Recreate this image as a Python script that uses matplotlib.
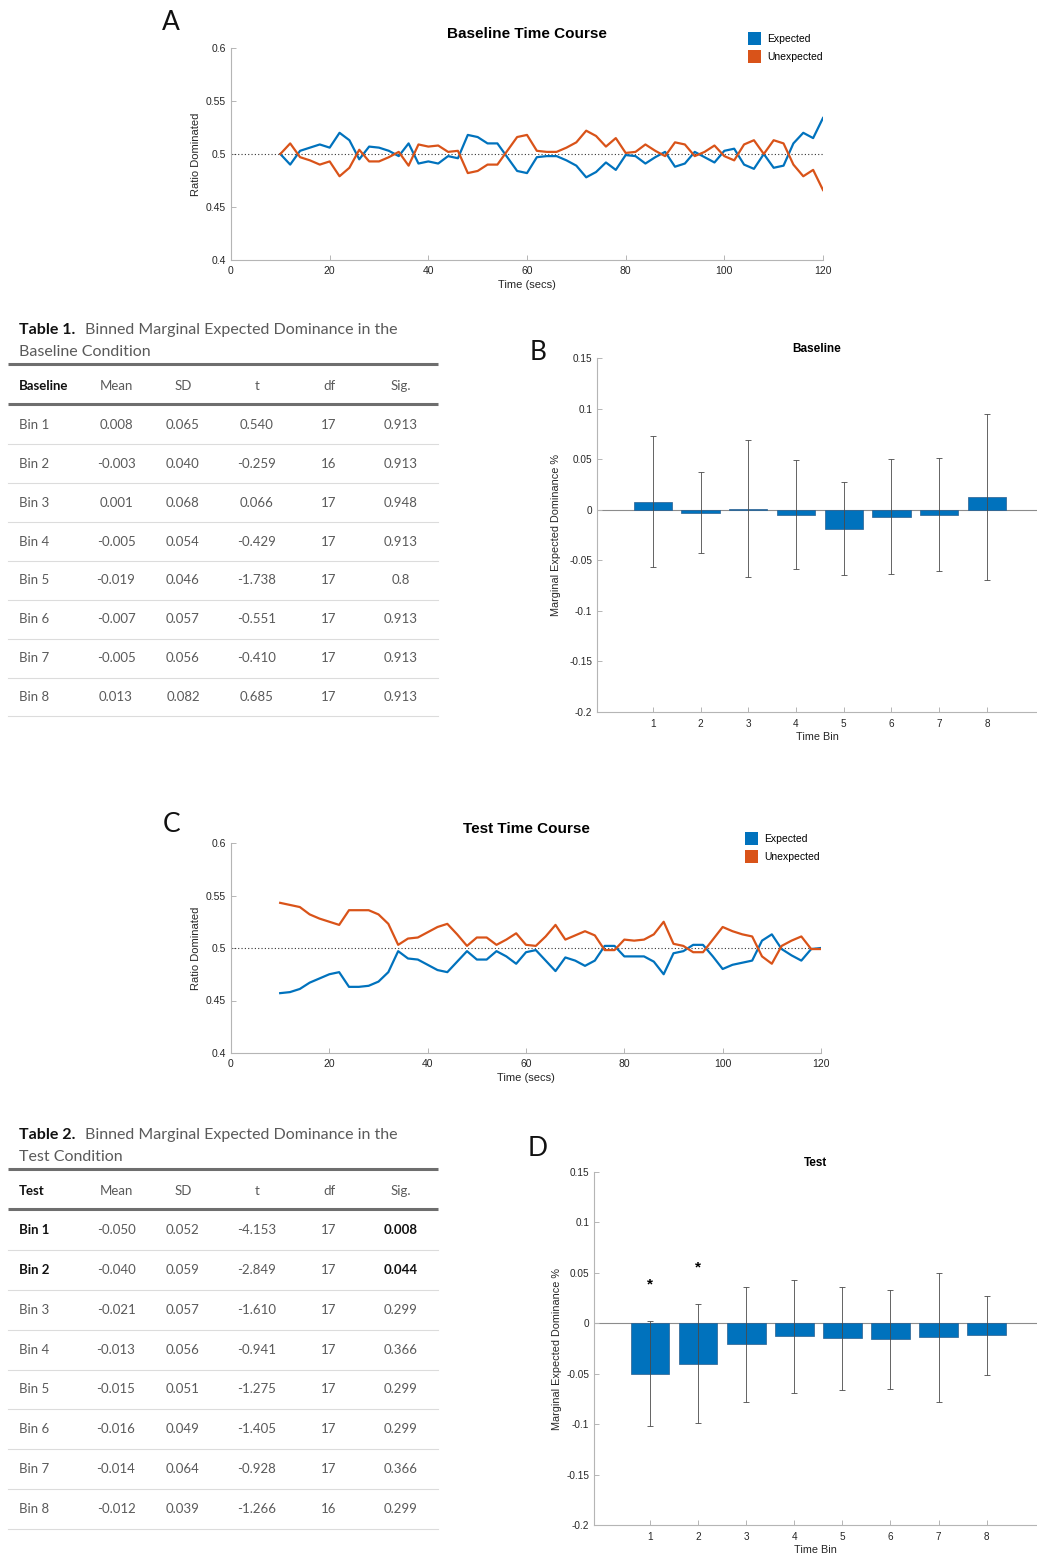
import matplotlib
matplotlib.use("Agg")
import matplotlib.pyplot as plt
from matplotlib.patches import Patch
import numpy as np

# ---- time courses (ratio dominated, sampled every 2 s) ----
times = list(range(10, 121, 2))

base_expected = [0.500, 0.490, 0.503, 0.506, 0.509, 0.506, 0.520, 0.513, 0.495, 0.507,
                 0.506, 0.503, 0.498, 0.510, 0.491, 0.493, 0.491, 0.498, 0.496, 0.518,
                 0.516, 0.510, 0.510, 0.497, 0.484, 0.482, 0.497, 0.498, 0.498, 0.494,
                 0.489, 0.478, 0.483, 0.492, 0.485, 0.499, 0.498, 0.491, 0.497, 0.502,
                 0.488, 0.491, 0.502, 0.497, 0.492, 0.503, 0.505, 0.490, 0.486, 0.500,
                 0.487, 0.489, 0.510, 0.520, 0.515, 0.534]
base_unexpected = [0.500, 0.510, 0.497, 0.494, 0.490, 0.493, 0.479, 0.487, 0.504, 0.493,
                   0.493, 0.497, 0.502, 0.489, 0.509, 0.507, 0.508, 0.502, 0.503, 0.482,
                   0.484, 0.490, 0.490, 0.503, 0.516, 0.518, 0.503, 0.502, 0.502, 0.506,
                   0.511, 0.522, 0.517, 0.507, 0.515, 0.501, 0.502, 0.509, 0.503, 0.498,
                   0.511, 0.509, 0.498, 0.502, 0.508, 0.498, 0.494, 0.509, 0.513, 0.500,
                   0.513, 0.510, 0.490, 0.479, 0.485, 0.466]

test_expected = [0.457, 0.458, 0.461, 0.467, 0.471, 0.475, 0.477, 0.463, 0.463, 0.464,
                 0.468, 0.477, 0.497, 0.490, 0.489, 0.484, 0.479, 0.477, 0.487, 0.497,
                 0.489, 0.489, 0.497, 0.492, 0.485, 0.496, 0.498, 0.488, 0.478, 0.491,
                 0.488, 0.483, 0.488, 0.502, 0.502, 0.492, 0.492, 0.492, 0.487, 0.475,
                 0.495, 0.497, 0.503, 0.503, 0.492, 0.480, 0.484, 0.486, 0.488, 0.507,
                 0.513, 0.499, 0.493, 0.488, 0.499, 0.500]
test_unexpected = [0.543, 0.541, 0.539, 0.532, 0.528, 0.525, 0.522, 0.536, 0.536, 0.536,
                   0.532, 0.523, 0.503, 0.509, 0.510, 0.515, 0.520, 0.523, 0.513, 0.502,
                   0.510, 0.510, 0.503, 0.508, 0.514, 0.503, 0.502, 0.511, 0.522, 0.508,
                   0.512, 0.516, 0.512, 0.498, 0.498, 0.508, 0.507, 0.508, 0.513, 0.525,
                   0.504, 0.502, 0.496, 0.496, 0.508, 0.520, 0.516, 0.513, 0.511, 0.492,
                   0.485, 0.502, 0.507, 0.511, 0.499, 0.499]

# ---- binned marginal expected dominance ----
bins = [1, 2, 3, 4, 5, 6, 7, 8]
columns = ["Mean", "SD", "t", "df", "Sig."]

base_mean = [0.008, -0.003, 0.001, -0.005, -0.019, -0.007, -0.005, 0.013]
base_sd = [0.065, 0.040, 0.068, 0.054, 0.046, 0.057, 0.056, 0.082]
base_t = [0.540, -0.259, 0.066, -0.429, -1.738, -0.551, -0.410, 0.685]
base_df = [17, 16, 17, 17, 17, 17, 17, 17]
base_sig = [0.913, 0.913, 0.948, 0.913, 0.8, 0.913, 0.913, 0.913]

test_mean = [-0.050, -0.040, -0.021, -0.013, -0.015, -0.016, -0.014, -0.012]
test_sd = [0.052, 0.059, 0.057, 0.056, 0.051, 0.049, 0.064, 0.039]
test_t = [-4.153, -2.849, -1.610, -0.941, -1.275, -1.405, -0.928, -1.266]
test_df = [17, 17, 17, 17, 17, 17, 17, 16]
test_sig = [0.008, 0.044, 0.299, 0.366, 0.299, 0.299, 0.366, 0.299]

BLUE = "#0072BD"
ORANGE = "#D95319"
AXC = "#b5b5b5"
TXT = "#262626"
CHART_FONT = ["Liberation Sans", "DejaVu Sans"]
TABLE_FONT = ["Lato", "DejaVu Sans"]
BODY = "#5a5a5a"

W, H = 1037, 1553
fig = plt.figure(figsize=(W / 100, H / 100), dpi=100)

# full-page overlay in pixel units for the tables and panel letters
page = fig.add_axes([0, 0, 1, 1], zorder=-5)
page.set_xlim(0, W)
page.set_ylim(H, 0)
page.axis("off")


def px_rect(left, top, right, bottom):
    return [left / W, 1 - bottom / H, (right - left) / W, (bottom - top) / H]


def style_axes(ax):
    for s in ("top", "right"):
        ax.spines[s].set_visible(False)
    for s in ("left", "bottom"):
        ax.spines[s].set_color(AXC)
        ax.spines[s].set_linewidth(0.8)
    ax.tick_params(direction="in", length=3.5, width=0.7, color=AXC,
                   labelcolor=TXT, labelsize=7.5)
    for lab in ax.get_xticklabels() + ax.get_yticklabels():
        lab.set_family(CHART_FONT)


def time_course(rect, expected, unexpected, title, legend_xy):
    ax = fig.add_axes(rect)
    ax.plot(times, expected, color=BLUE, lw=1.6, zorder=3)
    ax.plot(times, unexpected, color=ORANGE, lw=1.6, zorder=3)
    ax.axhline(0.5, color="#333333", lw=0.8, ls=(0, (1, 2)), zorder=2)
    ax.set_xlim(0, 120)
    ax.set_ylim(0.4, 0.6)
    ax.set_xticks(range(0, 121, 20))
    yt = [0.4, 0.45, 0.5, 0.55, 0.6]
    ax.set_yticks(yt)
    ax.set_yticklabels([f"{v:g}" for v in yt])
    style_axes(ax)
    ax.tick_params(axis="x", pad=4)
    ax.set_xlabel("Time (secs)", fontsize=8, color=TXT, family=CHART_FONT, labelpad=3)
    ax.set_ylabel("Ratio Dominated", fontsize=8, color=TXT, family=CHART_FONT)
    ax.yaxis.set_label_coords(-0.051, 0.5)
    ax.set_title(title, fontsize=11, fontweight="bold", color="black",
                 family=CHART_FONT, pad=7)
    handles = [Patch(facecolor=BLUE, label="Expected"),
               Patch(facecolor=ORANGE, label="Unexpected")]
    ax.legend(handles=handles, loc="upper left",
              bbox_to_anchor=(legend_xy[0] / W, 1 - legend_xy[1] / H),
              bbox_transform=fig.transFigure, frameon=False,
              handlelength=1.25, handleheight=1.5, handletextpad=0.6,
              labelspacing=0.55, borderpad=0, borderaxespad=0,
              prop={"family": CHART_FONT, "size": 7.5})
    return ax


def bar_panel(rect, means, sds, sigs, title, ylab_x):
    ax = fig.add_axes(rect)
    ax.axhline(0, color="#8c8c8c", lw=0.8, zorder=1)
    ax.bar(bins, means, width=0.8, color=BLUE, edgecolor="#2b5f8f",
           linewidth=0.5, zorder=2)
    ax.errorbar(bins, means, yerr=sds, fmt="none", ecolor="#4a4a4a",
                elinewidth=0.6, capsize=2.5, capthick=0.6, zorder=3)
    for b, m, s, p in zip(bins, means, sds, sigs):
        if p < 0.05:
            ax.text(b, m + s + 0.036, "*", ha="center", va="center",
                    fontsize=11, fontweight="bold", family=CHART_FONT)
    ax.set_xlim(-0.17, 9.05)
    ax.set_ylim(-0.2, 0.15)
    ax.set_xticks(bins)
    yt = [-0.2, -0.15, -0.1, -0.05, 0, 0.05, 0.1, 0.15]
    ax.set_yticks(yt)
    ax.set_yticklabels([f"{v:g}" for v in yt])
    style_axes(ax)
    ax.tick_params(labelsize=7.2)
    ax.tick_params(axis="x", pad=5)
    ax.set_xlabel("Time Bin", fontsize=7.8, color=TXT, family=CHART_FONT, labelpad=2)
    ax.set_ylabel("Marginal Expected Dominance %", fontsize=7.8, color=TXT,
                  family=CHART_FONT)
    ax.yaxis.set_label_coords(ylab_x, 0.5)
    ax.set_title(title, fontsize=8.5, fontweight="bold", color="black",
                 family=CHART_FONT, pad=4)
    return ax


def draw_table(top, row_step, label, number, caption_line2,
               means, sds, ts, dfs, sigs):
    col_x = [116, 183, 257, 329, 401]
    page.text(19, top, f"Table {number}.", fontsize=11.5, fontweight="bold",
              color="#111111", family=TABLE_FONT, va="center")
    page.text(85, top, "Binned Marginal Expected Dominance in the", fontsize=11.5,
              color=BODY, family=TABLE_FONT, va="center")
    page.text(19, top + 22, caption_line2, fontsize=11.5, color=BODY,
              family=TABLE_FONT, va="center")
    page.plot([8, 438], [top + 34, top + 34], color="#6e6e6e", lw=2.2,
              solid_capstyle="butt")
    hy = top + 56
    page.text(19, hy, label, fontsize=9.5, fontweight="bold", color="#111111",
              family=TABLE_FONT, va="center")
    for x, c in zip(col_x, columns):
        page.text(x, hy, c, fontsize=9.5, color=BODY, family=TABLE_FONT,
                  ha="center", va="center")
    page.plot([8, 438], [top + 74, top + 74], color="#6e6e6e", lw=2.2,
              solid_capstyle="butt")
    for i, b in enumerate(bins):
        y = top + 95 + i * row_step
        sig_bold = sigs[i] < 0.05
        page.text(19, y, f"Bin {b}", fontsize=9.5, family=TABLE_FONT,
                  fontweight="bold" if sig_bold else "normal",
                  color="#111111" if sig_bold else BODY, va="center")
        cells = [f"{means[i]:.3f}", f"{sds[i]:.3f}", f"{ts[i]:.3f}",
                 f"{dfs[i]}", f"{sigs[i]:g}"]
        for j, (x, c) in enumerate(zip(col_x, cells)):
            bold = sig_bold and j == 4
            page.text(x, y, c, fontsize=9.5, family=TABLE_FONT,
                      fontweight="bold" if bold else "normal",
                      color="#111111" if bold else BODY,
                      ha="center", va="center")
        ly = y + row_step / 2
        page.plot([8, 438], [ly, ly], color="#dcdcdc", lw=0.8)


# panel A: baseline time course
time_course(px_rect(231, 48, 823, 260), base_expected, base_unexpected,
            "Baseline Time Course", (748, 32))
# panel C: test time course
time_course(px_rect(231, 843, 821, 1053), test_expected, test_unexpected,
            "Test Time Course", (745, 832))
# panel B / D: binned bars
bar_panel(px_rect(597, 358, 1037, 712), base_mean, base_sd, base_sig, "Baseline", -0.082)
bar_panel(px_rect(594, 1172, 1037, 1525), test_mean, test_sd, test_sig, "Test", -0.072)

draw_table(330, 38.86, "Baseline", 1, "Baseline Condition",
           base_mean, base_sd, base_t, base_df, base_sig)
draw_table(1135, 39.86, "Test", 2, "Test Condition",
           test_mean, test_sd, test_t, test_df, test_sig)

for letter, x, y in [("A", 171, 22), ("B", 538, 353), ("C", 172, 825), ("D", 538, 1148)]:
    page.text(x, y, letter, fontsize=19, family=TABLE_FONT,
              color="#111111", ha="center", va="center")

fig.savefig("out.png", dpi=100, facecolor="white")
